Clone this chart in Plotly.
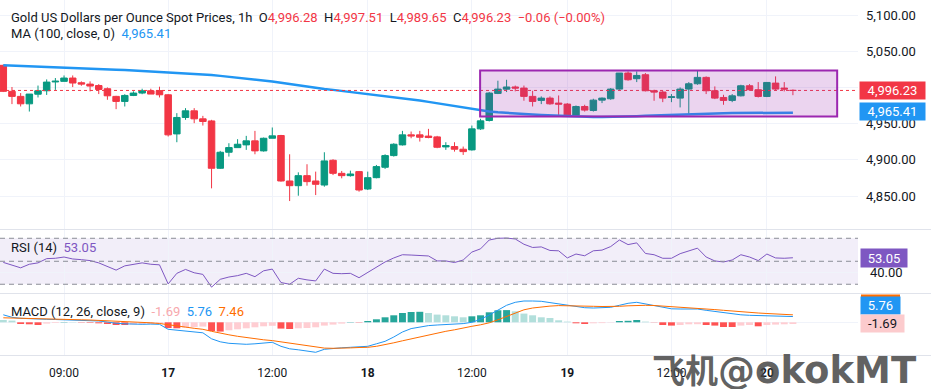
import plotly.graph_objects as go

# ---------------- data ----------------
bar_index = list(range(92))

opens = [5031, 4995, 4988, 4977.7, 4991, 4995.8, 5008, 5008.8, 5013.4, 5006.9,
         5005, 5003, 4998.6, 4988, 4981, 4989.3, 4992.6, 4995.8, 4996, 4990.2,
         4936, 4958.8, 4968, 4956.9, 4954, 4888.4, 4910.6, 4917, 4920.8, 4926.4,
         4912.5, 4930, 4933.8, 4870.8, 4864.3, 4878.2, 4870.8, 4865.2, 4899.5, 4881.4,
         4878.2, 4883.8, 4859.7, 4875.4, 4889.8, 4906, 4920.8, 4934.7, 4934.7, 4933,
         4931.9, 4918, 4918.5, 4914.8, 4913.9, 4943, 4954.6, 4992.1, 4998, 5001,
         4999.5, 4988, 4982.4, 4985.6, 4978.7, 4977.3, 4961.5, 4974, 4968.5, 4982.8,
         4984.7, 4998.1, 5020.3, 5012.5, 5018, 4995.8, 4994, 4986.5, 4985.6, 4998.1,
         5005.5, 5014.3, 4995.8, 4986.5, 4982.4, 4988.8, 5002.7, 4997.2, 4987.9, 5006.4,
         4999.5, 4996.28]
highs = [5032, 5001, 4992.6, 4991.2, 5003, 5011.5, 5013.4, 5017, 5017, 5008.8,
         5008.8, 5005, 5000.4, 4988.8, 4991, 4995, 4998.6, 4998.6, 5001.4, 4991.2,
         4964.8, 4971.7, 4971.7, 4961, 4955.5, 4912.5, 4923.1, 4928.7, 4933.3, 4940.2,
         4931, 4944.9, 4934.7, 4907.8, 4882.8, 4894, 4883.8, 4910.6, 4900.9, 4884.7,
         4885.1, 4884.7, 4883.8, 4893, 4907.8, 4923.1, 4940.2, 4939.3, 4940.2, 4943,
         4933.3, 4924.5, 4924.5, 4918.5, 4947.6, 4957, 4994, 5009.7, 5011, 5003,
         5003, 4995.8, 4988, 4988, 4989.3, 4978.7, 4975.4, 4976.4, 4984.7, 4986.5,
         4999.5, 5020.3, 5022.6, 5022.6, 5020.3, 4997.2, 4995.8, 4991.2, 5000.4, 5007.8,
         5023.6, 5015.7, 5001.8, 4990.2, 4991.2, 5004.1, 5005, 5007.8, 5007.8, 5015.7,
         5007.8, 4997.51]
lows = [4994, 4977.3, 4974, 4967, 4986.5, 4990, 4997, 5008.8, 5000.9, 5002.7,
        4994.9, 4991.2, 4983.3, 4970.3, 4974, 4988.4, 4991, 4991.2, 4986.5, 4932.4,
        4924.5, 4955.5, 4950.9, 4947.6, 4860.6, 4887.5, 4904.6, 4917, 4913.9, 4907.8,
        4911.5, 4930, 4869.9, 4843, 4850.4, 4864.3, 4851.3, 4862.9, 4879, 4874.5,
        4876.8, 4856, 4858.3, 4874.5, 4887.5, 4904.6, 4919.9, 4930, 4925.4, 4930,
        4916.2, 4913.9, 4911.5, 4906.9, 4912.9, 4941.6, 4953.2, 4991.2, 4994, 4995,
        4982, 4974, 4977.3, 4976.4, 4960, 4960, 4960, 4967, 4967, 4978.7,
        4983.3, 4997.2, 5009.7, 5007.8, 4994.9, 4981.9, 4980, 4980, 4972.7, 4963.4,
        5004.1, 4991.2, 4984.2, 4976.4, 4980, 4987.9, 4995.8, 4986.5, 4987, 4996.2,
        4994.9, 4989.65]
closes = [4995, 4988, 4977.7, 4991.2, 4995.8, 5007.8, 5009, 5013.4, 5006.5, 5005,
          5002.3, 4997.6, 4988.8, 4981, 4989.3, 4992.6, 4995.8, 4991.2, 4990.2, 4934.7,
          4958.8, 4968, 4956.9, 4953.2, 4888.4, 4910.6, 4917.1, 4921.7, 4926.4, 4912.5,
          4930, 4933.3, 4870.8, 4864.3, 4878.2, 4869.9, 4866.2, 4898.6, 4881.4, 4878.2,
          4880.5, 4858.3, 4875.4, 4890.7, 4906, 4921.7, 4934.7, 4933.3, 4931.4, 4931,
          4917.5, 4919.9, 4914.8, 4911.5, 4943, 4954.1, 4992.6, 4998.1, 5001, 4999.5,
          4988, 4981, 4985.6, 4977.7, 4977.3, 4961.5, 4974, 4969, 4982.8, 4985.6,
          4998.1, 5020.3, 5011, 5017, 4995.8, 4994, 4985.6, 4987.4, 4998.1, 5005.5,
          5014.3, 4995.8, 4985.6, 4982.4, 4988.8, 5002.7, 4997.2, 4987.9, 5007.3, 4998.1,
          4998.1, 4996.23]

ma100 = [5031, 5030.6, 5030.2, 5029.8, 5029.4, 5029, 5028.5, 5028, 5027.5, 5027,
         5026.5, 5026, 5025.5, 5025, 5024.4, 5023.8, 5023.2, 5022.6, 5022, 5021.4,
         5020.7, 5020, 5019.3, 5018.4, 5017.5, 5016.4, 5015.2, 5014, 5012.8, 5011.5,
         5010, 5008.5, 5006.8, 5005, 5003, 5001, 4999.6, 4998.3, 4997, 4995.6,
         4994.2, 4992.8, 4991.4, 4990, 4988.6, 4987.2, 4985.7, 4984, 4982.2, 4980.4,
         4978.5, 4976.6, 4974.6, 4972.6, 4970.5, 4968.6, 4967.2, 4966, 4965, 4964.2,
         4963.5, 4962.9, 4962.3, 4961.7, 4961.2, 4960.7, 4960.2, 4959.8, 4959.5, 4959.3,
         4959.4, 4959.7, 4960.1, 4960.6, 4961.1, 4961.6, 4962.1, 4962.6, 4963.1, 4963.5,
         4963.9, 4964.2, 4964.5, 4964.7, 4964.9, 4965.0, 4965.1, 4965.2, 4965.25, 4965.3,
         4965.35, 4965.41]

rsi14 = [49, 46.6, 44.3, 47.4, 48.6, 52.3, 52.6, 53.7, 52, 51.4,
         50.6, 48.6, 45.2, 42.3, 46, 47.4, 48.6, 47.4, 46.9, 30.3,
         39.5, 42.9, 40, 38.6, 27.5, 34.3, 36.3, 37.5, 39.5, 36.6,
         41.7, 43.2, 31.5, 30, 35.2, 33.8, 32.9, 43.2, 39.5, 39.2,
         39.5, 35.7, 40.3, 45.2, 49.4, 52.9, 55.7, 55.4, 54.8, 54.6,
         50.3, 50.3, 48.9, 51.1, 58, 60.8, 68.5, 70, 70.2, 69.4,
         64.8, 62, 62.5, 59.4, 59.1, 52.9, 56.3, 54.8, 59.1, 59.7,
         62.8, 68.5, 64.5, 66, 56.8, 55.7, 52.6, 52.6, 56.6, 58.8,
         61.4, 53.7, 50.3, 49.4, 51.1, 55.7, 53.7, 50.6, 56.3, 52.9,
         52.6, 53.05]

macd_line = [7.5, 5, 4, 3.5, 3.2, 3, 2.8, 2.5, 2.2, 2,
             1.7, 1.3, 0.3, -1, -1.5, -2, -2, -1.8, -2, -7,
             -8, -8.6, -9.3, -10.5, -16.5, -19.5, -21, -21.5, -22, -21.5,
             -20.7, -20, -24, -26.5, -27.5, -29, -30, -27, -26, -25.5,
             -25, -24.7, -24, -21.5, -19, -14.7, -9.7, -6.3, -4.7, -3.3,
             -2.7, -2.3, -2, -1.3, 0, 3, 7.3, 12, 17, 20,
             21.3, 21.3, 21, 19.7, 18.3, 17, 15.5, 14.6, 14.3, 14.3,
             15, 17, 19, 20, 18.5, 17, 15, 13.5, 13.3, 13.3,
             13.3, 12, 10.8, 9.5, 8.3, 7.5, 7, 6.7, 6.6, 6.5,
             6.1, 5.76]
signal_line = [4.5, 4.2, 4.0, 3.7, 3.5, 3.3, 3.1, 2.9, 2.7, 2.5,
               2.3, 2.0, 1.6, 1.2, 0.8, 0.4, 0, -0.5, -1.2, -2.2,
               -3.5, -4.8, -6, -7, -9, -11, -12.5, -14, -15.3, -16.5,
               -17.5, -18.3, -19.5, -21, -22, -23.5, -25, -25.8, -26, -26,
               -25.6, -25.2, -25, -24, -22.5, -20.5, -18.5, -16.5, -14.5, -12.5,
               -10.5, -9, -7.5, -5.5, -4, -2.5, -0.5, 2.5, 6, 9.5,
               12.5, 14.3, 15.5, 16.2, 16.7, 16.7, 16.5, 16.2, 16, 15.8,
               15.7, 16, 16.5, 17, 17, 16.8, 16.3, 15.7, 15, 14.5,
               14.1, 13.5, 12.7, 12, 11.2, 10.5, 9.8, 9.3, 8.8, 8.3,
               7.9, 7.46]
macd_hist = [2.3, 1.7, -1.7, -2, -2.7, -1.3, -0.7, 0.3, 0.3, -0.3,
             -0.5, -1, -1.7, -2.7, -2.7, -2.3, -2, -1.7, -1.3, -5.7,
             -6, -5.3, -4.7, -4.3, -8.7, -9.3, -8, -7, -6, -5,
             -4, -3.5, -6.3, -6.7, -6, -5.7, -5, -3.3, -2.3, -1.3,
             0.3, -0.3, 1.3, 3, 5, 7, 9.3, 10.3, 10.5, 9.3,
             7.7, 7, 6, 5, 6, 7, 10, 12, 12.2, 11,
             8.7, 7, 5, 4.3, 2, 0.7, -1, -1.7, -1, -0.8,
             -0.3, 1.3, 1.5, 2.3, 0.7, -0.2, -2.7, -3.3, -2.7, -2,
             -1.9, -2.7, -3.3, -4.7, -4.7, -3.3, -2.7, -4, -2.7, -2.3,
             -2, -1.69]

x_tick_index = [7, 19, 31, 42, 54, 65, 77, 88]
x_tick_labels = ["09:00", "<b>17</b>", "12:00", "<b>18</b>", "12:00", "<b>19</b>", "12:00", "<b>20</b>"]
price_ticks = [4850, 4900, 4950, 5000, 5050, 5100]
price_tick_hidden = [5000]          # tick covered by the last-price label
rsi_ticks = [40]
rsi_levels = [30, 50, 70]

box_start, box_end = 54.95, 96.1
box_low, box_high = 4960.1, 5024.0

header_change = "\u22120.06 (\u22120.00%)"

# ---------------- styling ----------------
UP, DOWN = "#089981", "#f23645"
TXT = "#131722"
GRID = "#f0f3fa"
FONT = "Roboto"
W, H = 931, 389
ML, MR, MT, MB = 0, 73, 0, 34
PW, PH = W - ML - MR, H - MT - MB


def px_x(p):
    return p / PW


def px_y(p):
    return (PH - p) / PH


hist_colors = []
for k, v in enumerate(macd_hist):
    prev = macd_hist[k - 1] if k > 0 else v
    if v >= 0:
        hist_colors.append("#26a69a" if prev < v else "#b2dfdb")
    else:
        hist_colors.append("#ffcdd2" if prev < v else "#ff5252")

fig = go.Figure()

fig.add_trace(go.Candlestick(
    x=bar_index, open=opens, high=highs, low=lows, close=closes,
    increasing=dict(line=dict(color=UP, width=1), fillcolor=UP),
    decreasing=dict(line=dict(color=DOWN, width=1), fillcolor=DOWN),
    whiskerwidth=0, xaxis="x", yaxis="y", hoverinfo="skip"))
fig.add_trace(go.Scatter(x=bar_index, y=ma100, mode="lines",
                         line=dict(color="#2196f3", width=2.5), yaxis="y", hoverinfo="skip"))
fig.add_trace(go.Scatter(x=bar_index, y=rsi14, mode="lines",
                         line=dict(color="#7e57c2", width=1), yaxis="y2", hoverinfo="skip"))
fig.add_trace(go.Bar(x=bar_index, y=macd_hist, marker=dict(color=hist_colors, line=dict(width=0)),
                     width=0.8, yaxis="y3", hoverinfo="skip"))
fig.add_trace(go.Scatter(x=bar_index, y=macd_line, mode="lines",
                         line=dict(color="#2196f3", width=1), yaxis="y3", hoverinfo="skip"))
fig.add_trace(go.Scatter(x=bar_index, y=signal_line, mode="lines",
                         line=dict(color="#ff6d00", width=1), yaxis="y3", hoverinfo="skip"))

shapes = []
# RSI band + levels
shapes.append(dict(type="rect", xref="paper", x0=0, x1=1, yref="y2", y0=min(rsi_levels), y1=max(rsi_levels),
                   fillcolor="rgba(126,87,194,0.1)", line=dict(width=0), layer="below"))
for lv in rsi_levels:
    shapes.append(dict(type="line", xref="paper", x0=0, x1=1, yref="y2", y0=lv, y1=lv,
                       line=dict(color="#8a8d96", width=1, dash="5px,4px")))
# last price dotted line
shapes.append(dict(type="line", xref="paper", x0=0, x1=1, yref="y", y0=closes[-1], y1=closes[-1],
                   line=dict(color=DOWN, width=1, dash="dot")))
# drawn rectangle
shapes.append(dict(type="rect", xref="x", yref="y", x0=box_start, x1=box_end, y0=box_low, y1=box_high,
                   fillcolor="rgba(156,39,176,0.2)", line=dict(color="#9c27b0", width=2)))
# pane separators
for sep in [229.5, 293.5, 355.5]:
    shapes.append(dict(type="line", xref="paper", x0=0, x1=W / PW, yref="paper", y0=px_y(sep), y1=px_y(sep),
                       line=dict(color="#e0e3eb", width=1)))
# hidden signal label sliver
shapes.append(dict(type="rect", xref="paper", x0=px_x(861), x1=px_x(900), yref="paper",
                   y0=px_y(297), y1=px_y(294.5), fillcolor="#ff6d00", line=dict(width=0)))

ann = []
red = DOWN
header = (f"Gold US Dollars per Ounce Spot Prices, 1h  "
          f"O<span style='color:{red}'>{opens[-1]:,.2f}</span>  "
          f"H<span style='color:{red}'>{highs[-1]:,.2f}</span>  "
          f"L<span style='color:{red}'>{lows[-1]:,.2f}</span>  "
          f"C<span style='color:{red}'>{closes[-1]:,.2f}  {header_change}</span>")
ann.append(dict(text=header, xref="paper", yref="paper", x=px_x(9), y=px_y(17), xanchor="left",
                yanchor="middle", showarrow=False, font=dict(size=13, color=TXT, family=FONT)))
ann.append(dict(text=f"MA (100, close, 0)  <span style='color:#2196f3'>{ma100[-1]:,.2f}</span>",
                xref="paper", yref="paper", x=px_x(9), y=px_y(34), xanchor="left", yanchor="middle",
                showarrow=False, font=dict(size=13, color=TXT, family=FONT)))
ann.append(dict(text=f"RSI (14)  <span style='color:#7e57c2'>{rsi14[-1]:.2f}</span>",
                xref="paper", yref="paper", x=px_x(9), y=px_y(248), xanchor="left", yanchor="middle",
                showarrow=False, font=dict(size=13, color=TXT, family=FONT)))
ann.append(dict(text=(f"MACD (12, 26, close, 9)  <span style='color:#f7a8ad'>{macd_hist[-1]:.2f}</span>  "
                      f"<span style='color:#2196f3'>{macd_line[-1]:.2f}</span>  "
                      f"<span style='color:#ff6d00'>{signal_line[-1]:.2f}</span>"),
                xref="paper", yref="paper", x=px_x(9), y=px_y(311), xanchor="left", yanchor="middle",
                showarrow=False, font=dict(size=13, color=TXT, family=FONT)))

# right-axis value labels
ann.append(dict(text=f"{closes[-1]:,.2f}", xref="paper", yref="y", x=px_x(892.5), y=closes[-1],
                xanchor="center", yanchor="middle", showarrow=False, bgcolor=DOWN, width=65, height=17,
                borderpad=0, font=dict(size=13, color="white", family=FONT)))
ann.append(dict(text=f"{ma100[-1]:,.2f}", xref="paper", yref="y", x=px_x(892.5), y=ma100[-1] + 1.5,
                xanchor="center", yanchor="middle", showarrow=False, bgcolor="#2196f3", width=65, height=17,
                borderpad=0, font=dict(size=13, color="white", family=FONT)))
ann.append(dict(text=f"{rsi14[-1]:.2f}", xref="paper", yref="y2", x=px_x(884), y=rsi14[-1],
                xanchor="center", yanchor="middle", showarrow=False, bgcolor="#7e57c2", width=46, height=18,
                borderpad=0, font=dict(size=13, color="white", family=FONT)))
ann.append(dict(text=f"{macd_line[-1]:.2f}", xref="paper", yref="paper", x=px_x(880.5), y=px_y(305.5),
                xanchor="center", yanchor="middle", showarrow=False, bgcolor="#2196f3", width=39, height=17,
                borderpad=0, font=dict(size=13, color="white", family=FONT)))
ann.append(dict(text=f"{macd_hist[-1]:.2f}", xref="paper", yref="y3", x=px_x(882.5), y=macd_hist[-1],
                xanchor="center", yanchor="middle", showarrow=False, bgcolor="#fccbcd", width=43, height=17,
                borderpad=0, font=dict(size=13, color=TXT, family=FONT)))
# watermark
ann.append(dict(text=("<b>飞机<span style='font-family:DejaVu Sans;font-size:37px'>@okokMT</span></b>"),
                xref="paper", yref="paper", x=px_x(650), y=px_y(369),
                xanchor="left", yanchor="middle", showarrow=False,
                font=dict(size=33, color="rgba(70,70,70,0.85)", family="Noto Sans CJK SC")))

fig.update_layout(
    width=W, height=H, margin=dict(l=ML, r=MR, t=MT, b=MB),
    paper_bgcolor="white", plot_bgcolor="white", showlegend=False,
    font=dict(family=FONT, color=TXT, size=13),
    boxgap=0.25, boxgroupgap=0, bargap=0.2,
    shapes=shapes, annotations=ann,
    xaxis=dict(range=[-0.38, 98.5], tickvals=x_tick_index, ticktext=x_tick_labels,
               showgrid=True, gridcolor=GRID, zeroline=False, showline=False, ticks="",
               anchor="y3", rangeslider=dict(visible=False), tickfont=dict(size=12, color=TXT),
               ticklabelstandoff=9, fixedrange=True),
    yaxis=dict(domain=[px_y(229), 1], range=[4804.3, 5121.5], side="right", anchor="x",
               tickvals=price_ticks,
               ticktext=["" if v in price_tick_hidden else f"{v:,.2f}" for v in price_ticks],
               showgrid=True, gridcolor=GRID, zeroline=False, ticks="", ticklabelstandoff=7,
               tickfont=dict(size=13, color=TXT)),
    yaxis2=dict(domain=[px_y(293), px_y(230)], range=[22.4, 77.2], side="right", anchor="x",
                tickvals=rsi_ticks, ticktext=[f"{v:.2f}" for v in rsi_ticks],
                showgrid=True, gridcolor=GRID, zeroline=False, ticks="", ticklabelstandoff=11,
                tickfont=dict(size=13, color=TXT)),
    yaxis3=dict(domain=[0, px_y(294)], range=[-32.7, 28.3], side="right", anchor="x",
                tickvals=[0], showticklabels=False, showgrid=True, gridcolor=GRID, zeroline=False,
                ticks=""),
)

fig.write_html("out.html", config={"displayModeBar": False, "staticPlot": True},
               post_script="document.body.style.margin='0';document.body.style.padding='0';")
